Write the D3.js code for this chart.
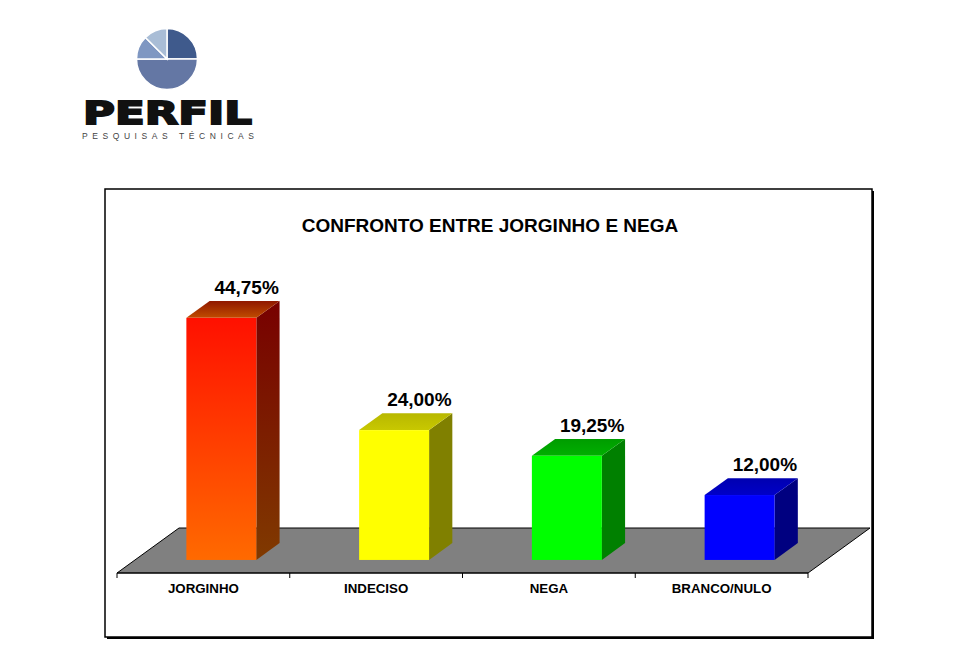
<!DOCTYPE html>
<html>
<head>
<meta charset="utf-8">
<script src="https://cdn.jsdelivr.net/npm/d3@7"></script>
<style>
    body { margin: 0; background: #ffffff; }
    svg { display: block; }
    text { font-family: "Liberation Sans", Arial, sans-serif; }
</style>
</head>
<body>
<svg id="chart" width="961" height="659"></svg>
<script>
// Chart data
const categories = ['JORGINHO', 'INDECISO', 'NEGA', 'BRANCO/NULO'];
const values = [44.75, 24.00, 19.25, 12.00];
const valueLabels = ['44,75%', '24,00%', '19,25%', '12,00%'];
const chartTitle = 'CONFRONTO ENTRE JORGINHO E NEGA';

// Logo pie shares
const logoShares = [25, 50, 12.5, 12.5];

// Colours per bar: front top, front bottom, side top, side bottom, top back, top front
const palette = [
    ['#ff1000', '#ff6a00', '#780000', '#803a00', '#901800', '#c04c00'],
    ['#ffff00', '#ffff00', '#808000', '#808000', '#b8b800', '#c8c800'],
    ['#00ff00', '#00ff00', '#008000', '#008000', '#009c00', '#00b000'],
    ['#0000ff', '#0000ff', '#000080', '#000080', '#0000b0', '#0000c8']
];
const logoColors = ['#3f5a8c', '#6477a4', '#7f97c2', '#a9bdd6'];

const svg = d3.select('#chart');

// ---- Logo ----
const pie = d3.pie().value(d => d).sort(null);
const logoArc = d3.arc().innerRadius(0).outerRadius(30.5);
svg.append('g')
    .attr('transform', 'translate(167,59)')
    .selectAll('path')
    .data(pie(logoShares))
    .enter().append('path')
    .attr('d', logoArc)
    .attr('fill', (d, i) => logoColors[i])
    .attr('stroke', '#ffffff')
    .attr('stroke-width', 1.5);

svg.append('text')
    .attr('x', 83).attr('y', 123.5)
    .attr('textLength', 169)
    .attr('lengthAdjust', 'spacingAndGlyphs')
    .style('font-family', '"DejaVu Sans", sans-serif')
    .style('font-weight', 'bold')
    .style('font-size', '32px')
    .attr('fill', '#111111')
    .attr('stroke', '#111111')
    .attr('stroke-width', 1.8)
    .text('PERFIL');

svg.append('text')
    .attr('x', 82).attr('y', 139)
    .attr('textLength', 172)
    .attr('lengthAdjust', 'spacing')
    .style('font-size', '8.5px')
    .attr('fill', '#444444')
    .text('PESQUISAS TÉCNICAS');

// ---- Frame ----
svg.append('rect')
    .attr('x', 107).attr('y', 191).attr('width', 767).attr('height', 448)
    .attr('fill', '#000000');
svg.append('rect')
    .attr('x', 105).attr('y', 189).attr('width', 767).attr('height', 448)
    .attr('fill', '#ffffff')
    .attr('stroke', '#000000')
    .attr('stroke-width', 1.5);

svg.append('text')
    .attr('x', 490).attr('y', 232)
    .attr('text-anchor', 'middle')
    .style('font-weight', 'bold')
    .style('font-size', '19px')
    .text(chartTitle);

// ---- Scales ----
const floorFront = 573;
const depthX = 62, depthY = -45;   // full floor depth vector
const barFront = 0.29, barBack = 0.665;

const x = d3.scaleBand()
    .domain(categories)
    .range([117, 808]);

const h = d3.scaleLinear()
    .domain([0, 50])
    .range([0, 270.5]);

const barW = x.bandwidth() * 0.405;

// ---- Floor ----
const [fx0, fx1] = x.range();
const floorPts = [
    [fx0, floorFront],
    [fx1, floorFront],
    [fx1 + depthX, floorFront + depthY],
    [fx0 + depthX, floorFront + depthY]
];
svg.append('path')
    .attr('d', d3.line()(floorPts) + 'Z')
    .attr('fill', '#808080')
    .attr('stroke', '#000000')
    .attr('stroke-width', 1);

// Axis line along the front edge with ticks on band boundaries
const tickXs = categories.map(c => x(c)).concat([fx1]);
svg.append('line')
    .attr('x1', fx0).attr('x2', fx1)
    .attr('y1', floorFront).attr('y2', floorFront)
    .attr('stroke', '#000000').attr('stroke-width', 1.2);
svg.selectAll('.tick')
    .data(tickXs)
    .enter().append('line')
    .attr('class', 'tick')
    .attr('x1', d => d).attr('x2', d => d)
    .attr('y1', floorFront).attr('y2', floorFront + 5)
    .attr('stroke', '#000000');

svg.selectAll('.cat')
    .data(categories)
    .enter().append('text')
    .attr('class', 'cat')
    .attr('x', d => x(d) + x.bandwidth() / 2)
    .attr('y', 593)
    .attr('text-anchor', 'middle')
    .style('font-weight', 'bold')
    .style('font-size', '13.3px')
    .text(d => d);

// ---- Gradients ----
const defs = svg.append('defs');
function vGrad(id, c0, c1) {
    const g = defs.append('linearGradient').attr('id', id)
        .attr('x1', 0).attr('y1', 0).attr('x2', 0).attr('y2', 1);
    g.append('stop').attr('offset', '0%').attr('stop-color', c0);
    g.append('stop').attr('offset', '100%').attr('stop-color', c1);
}
palette.forEach((p, i) => {
    vGrad('front' + i, p[0], p[1]);
    vGrad('side' + i, p[2], p[3]);
    vGrad('top' + i, p[4], p[5]);
});

// ---- 3D bars ----
const bx = depthX * barFront, by = depthY * barFront;
const ddx = depthX * (barBack - barFront), ddy = depthY * (barBack - barFront);

const bars = svg.selectAll('.bar')
    .data(categories)
    .enter().append('g')
    .attr('class', 'bar');

bars.each(function (c, i) {
    const g = d3.select(this);
    const left = x(c) + x.bandwidth() / 2 - barW / 2 + bx;
    const right = left + barW;
    const bottom = floorFront + by;
    const top = bottom - h(values[i]);

    // side face
    g.append('path')
        .attr('d', d3.line()([[right, top], [right + ddx, top + ddy], [right + ddx, bottom + ddy], [right, bottom]]) + 'Z')
        .attr('fill', `url(#side${i})`);
    // top face
    g.append('path')
        .attr('d', d3.line()([[left, top], [left + ddx, top + ddy], [right + ddx, top + ddy], [right, top]]) + 'Z')
        .attr('fill', `url(#top${i})`);
    // front face
    g.append('rect')
        .attr('x', left).attr('y', top)
        .attr('width', barW).attr('height', bottom - top)
        .attr('fill', `url(#front${i})`);

    g.append('text')
        .attr('x', left + barW / 2 + ddx + 2)
        .attr('y', top + ddy - 7)
        .attr('text-anchor', 'middle')
        .style('font-weight', 'bold')
        .style('font-size', '19px')
        .text(valueLabels[i]);
});
</script>
</body>
</html>
